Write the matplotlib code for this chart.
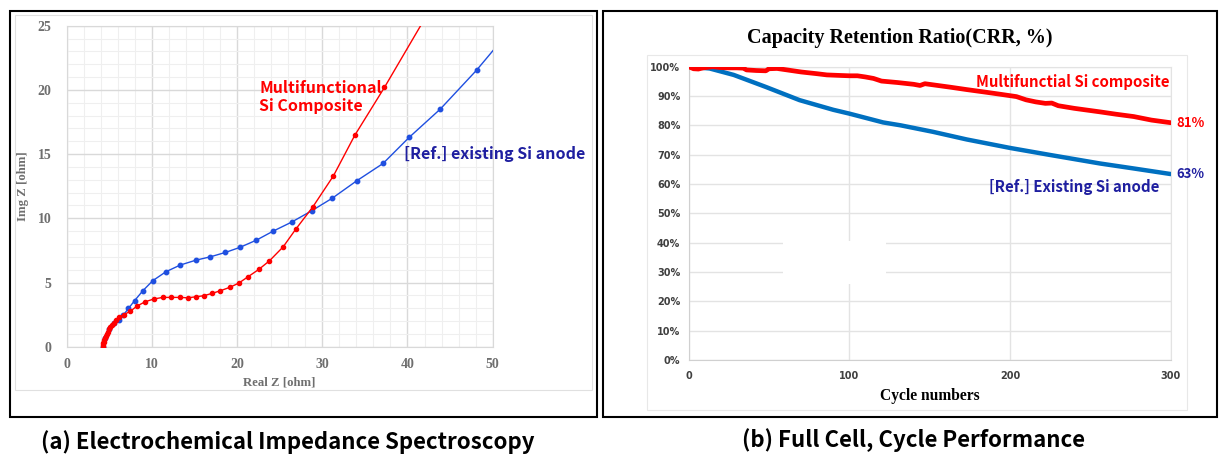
import matplotlib.pyplot as plt
from matplotlib.patches import Rectangle
from matplotlib.ticker import FuncFormatter, MultipleLocator

# ---- (a) EIS Nyquist data ----
eis_red_x = [4.23, 4.27, 4.31, 4.36, 4.42, 4.50, 4.58, 4.68, 4.80, 4.94, 5.10, 5.28,
             5.50, 5.80, 6.19, 6.70, 7.45, 8.24, 9.21, 10.2, 11.26, 12.27, 13.25,
             14.23, 15.2, 16.07, 17.06, 18.04, 19.13, 20.19, 21.29, 22.55, 23.8,
             25.41, 26.86, 28.9, 31.3, 33.8, 37.3, 42.6]
eis_red_y = [0.0, 0.13, 0.26, 0.40, 0.54, 0.70, 0.85, 1.01, 1.18, 1.34, 1.51, 1.69,
             1.88, 2.07, 2.30, 2.50, 2.75, 3.16, 3.50, 3.71, 3.84, 3.84, 3.84,
             3.81, 3.89, 3.97, 4.15, 4.36, 4.62, 4.95, 5.45, 6.02, 6.69,
             7.78, 9.13, 10.9, 13.3, 16.45, 20.2, 26.2]
eis_blue_x = [4.23, 4.50, 4.94, 5.50, 6.19, 6.66, 7.25, 7.96, 8.94, 10.1, 11.65,
              13.33, 15.17, 16.86, 18.62, 20.31, 22.27, 24.23, 26.39, 28.74, 31.18,
              34.04, 37.13, 40.19, 43.84, 48.1, 51.6]
eis_blue_y = [0.0, 0.70, 1.34, 1.88, 2.10, 2.47, 2.98, 3.58, 4.36, 5.14, 5.84,
              6.36, 6.74, 7.00, 7.34, 7.73, 8.30, 9.00, 9.70, 10.58, 11.57,
              12.92, 14.27, 16.30, 18.50, 21.53, 24.3]

# ---- (b) cycle retention data ----
red_cycle = [0, 3, 6, 9, 12, 15, 20, 25, 30, 34, 36, 42, 48, 50, 55, 60, 65, 70,
             80, 86, 95, 100, 105, 110, 115, 120, 130, 140, 144, 147, 155, 163,
             173, 185, 194, 204, 210, 216, 222, 226, 230, 240, 256, 266, 277,
             288, 300]
red_crr = [100.0, 99.3, 99.2, 99.6, 99.8, 100.0, 99.7, 99.6, 99.6, 99.5, 98.9,
           98.7, 98.6, 99.3, 99.4, 99.0, 98.6, 98.2, 97.6, 97.2, 97.0, 96.9,
           96.9, 96.5, 96.0, 95.1, 94.6, 94.0, 93.6, 94.2, 93.6, 93.0, 92.2,
           91.3, 90.6, 89.8, 88.7, 88.0, 87.5, 87.6, 86.7, 85.8, 84.6, 83.8,
           83.0, 81.8, 80.9]
blue_cycle = [0, 13, 28, 48, 69, 90, 100, 121, 132, 152, 173, 200, 225, 256, 277, 300]
blue_crr = [100.0, 99.4, 97.2, 93.1, 88.6, 85.3, 84.0, 81.0, 80.0, 77.8, 75.2,
            72.3, 69.9, 67.0, 65.3, 63.4]

RED = "#ff0000"
EIS_BLUE = "#1f4fe0"
CYC_BLUE = "#0070c0"
NAVY = "#1f1fa0"
GRID = "#d9d9d9"

W, H = 1220, 455
fig = plt.figure(figsize=(W / 100, H / 100), dpi=100)


def px_rect(x0, y0, x1, y1, **kw):
    # rectangle given in pixel coords (origin top-left)
    fig.add_artist(Rectangle((x0 / W, 1 - y1 / H), (x1 - x0) / W, (y1 - y0) / H,
                             transform=fig.transFigure, fill=False, **kw))


def px_axes(x0, y0, x1, y1):
    return fig.add_axes([x0 / W, 1 - y1 / H, (x1 - x0) / W, (y1 - y0) / H])


# panel frames
px_rect(10, 11, 597, 417, edgecolor="black", linewidth=1.5)
px_rect(603, 11, 1217, 417, edgecolor="black", linewidth=1.5)
px_rect(15, 15, 592, 390, edgecolor="#e0e0e0", linewidth=0.8, zorder=-1)
px_rect(647, 55, 1187, 410, edgecolor="#e8e8e8", linewidth=0.8, zorder=-1)

serif = "Liberation Serif"
sans = ["Noto Sans CJK KR", "DejaVu Sans"]

# === (a) EIS ===
ax1 = px_axes(66.7, 25.7, 492.7, 346.7)
ax1.plot(eis_blue_x, eis_blue_y, "-o", color=EIS_BLUE, lw=1.0, ms=3.2, zorder=3)
ax1.plot(eis_red_x, eis_red_y, "-o", color=RED, lw=1.0, ms=3.0, zorder=4)
ax1.set_xlim(0, 50)
ax1.set_ylim(0, 25)
ax1.xaxis.set_major_locator(MultipleLocator(10))
ax1.xaxis.set_minor_locator(MultipleLocator(2))
ax1.yaxis.set_major_locator(MultipleLocator(5))
ax1.yaxis.set_minor_locator(MultipleLocator(1))
ax1.grid(True, which="major", color=GRID, lw=1.0)
ax1.grid(True, which="minor", color="#efefef", lw=0.8)
ax1.set_axisbelow(True)
for s in ax1.spines.values():
    s.set_color(GRID)
ax1.tick_params(which="both", length=0, labelsize=10, labelcolor="#6f6f6f")
ax1.tick_params(axis="x", pad=8)
ax1.tick_params(axis="y", pad=11)
for lbl in ax1.get_xticklabels() + ax1.get_yticklabels():
    lbl.set_fontfamily(serif)
    lbl.set_fontweight("bold")
ax1.set_xlabel("Real Z [ohm]", fontfamily=serif, fontweight="bold", fontsize=9.2,
               color="#6f6f6f", labelpad=4)
ax1.set_ylabel("Img Z [ohm]", fontfamily=serif, fontweight="bold", fontsize=9.2,
               color="#6f6f6f", labelpad=6)
ax1.text(0.452, 0.83, "Multifunctional\nSi Composite", transform=ax1.transAxes,
         color=RED, fontfamily=sans, fontweight="bold", fontsize=11.5,
         va="top", ha="left", linespacing=1.1)
ax1.text(0.792, 0.60, "[Ref.] existing Si anode", transform=ax1.transAxes,
         color=NAVY, fontfamily=sans, fontweight="bold", fontsize=11.5,
         va="center", ha="left", clip_on=False)

# === (b) cycle performance ===
ax2 = px_axes(688.7, 66.7, 1170.7, 360)
ax2.plot(blue_cycle, blue_crr, color=CYC_BLUE, lw=3.2, solid_capstyle="round", zorder=3)
ax2.plot(red_cycle, red_crr, color=RED, lw=3.4, solid_capstyle="round", zorder=4)
ax2.set_xlim(0, 300)
ax2.set_ylim(0, 100)
ax2.xaxis.set_major_locator(MultipleLocator(100))
ax2.yaxis.set_major_locator(MultipleLocator(10))
ax2.yaxis.set_major_formatter(FuncFormatter(lambda v, _: f"{v:.0f}%"))
ax2.grid(True, color="#e3e3e3", lw=1.0)
ax2.set_axisbelow(True)
for s in ax2.spines.values():
    s.set_color("#e3e3e3")
ax2.spines["left"].set_color("#d0d0d0")
ax2.spines["bottom"].set_color("#d0d0d0")
ax2.tick_params(length=0, labelsize=7, labelcolor="#404040")
ax2.tick_params(axis="x", pad=8)
ax2.tick_params(axis="y", pad=6)
for lbl in ax2.get_xticklabels() + ax2.get_yticklabels():
    lbl.set_fontfamily("DejaVu Sans")
    lbl.set_fontweight("bold")
# white patch over the grid (as in the source image)
ax2.add_patch(Rectangle((0.195, 0.26), 0.215, 0.145, transform=ax2.transAxes,
                        facecolor="white", edgecolor="none", zorder=1.5))
ax2.set_xlabel("Cycle numbers", fontfamily=serif, fontweight="bold", fontsize=11.2,
               color="black", labelpad=5)
fig.text(900 / W, 1 - 38 / H, "Capacity Retention Ratio(CRR, %)", ha="center",
         va="center", fontfamily=serif, fontweight="bold", fontsize=14.5)
ax2.text(0.597, 0.947, "Multifunctial Si composite", transform=ax2.transAxes,
         color=RED, fontfamily=sans, fontweight="bold", fontsize=10.8,
         va="center", ha="left")
ax2.text(0.622, 0.59, "[Ref.] Existing Si anode", transform=ax2.transAxes,
         color=NAVY, fontfamily=sans, fontweight="bold", fontsize=10.8,
         va="center", ha="left")
ax2.annotate(f"{red_crr[-1]:.0f}%", (red_cycle[-1], red_crr[-1]), xytext=(4, 0),
             textcoords="offset points", color=RED, fontfamily=sans,
             fontweight="bold", fontsize=9.5, va="center", ha="left")
ax2.annotate(f"{blue_crr[-1]:.0f}%", (blue_cycle[-1], blue_crr[-1]), xytext=(4, 0),
             textcoords="offset points", color=NAVY, fontfamily=sans,
             fontweight="bold", fontsize=9.5, va="center", ha="left")

# captions
fig.text(288 / W, 1 - 442 / H, "(a) Electrochemical Impedance Spectroscopy",
         ha="center", va="center", fontfamily=sans, fontweight="bold", fontsize=16)
fig.text(914 / W, 1 - 440 / H, "(b) Full Cell, Cycle Performance",
         ha="center", va="center", fontfamily=sans, fontweight="bold", fontsize=16)

fig.savefig("out.png", dpi=100)
